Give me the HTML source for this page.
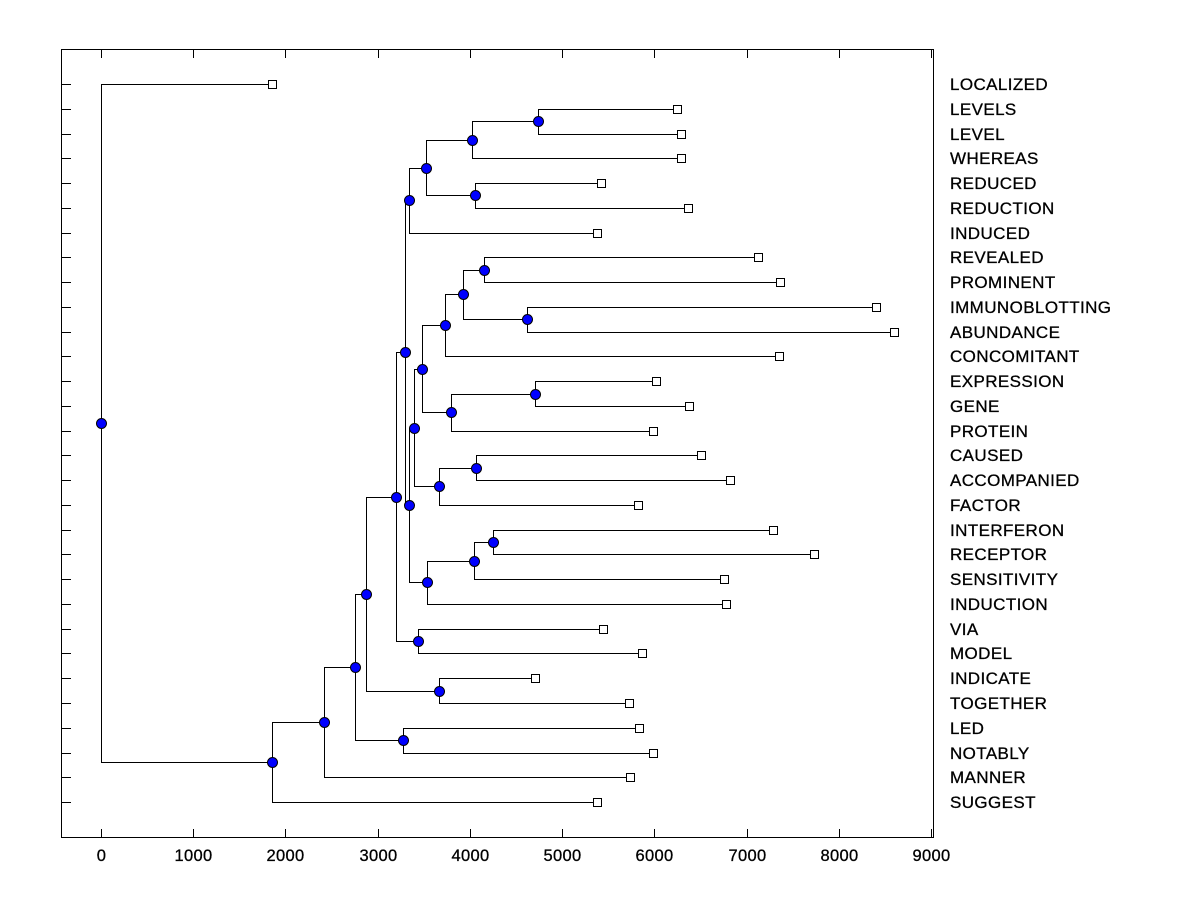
<!DOCTYPE html>
<html><head><meta charset="utf-8"><style>
html,body{margin:0;padding:0;background:#fff;}
svg{display:block;font-family:"Liberation Sans",Arial,sans-serif;}
</style></head><body>
<svg id="chart" width="1200" height="900" viewBox="0 0 1200 900">
<rect x="61.5" y="49.5" width="872" height="788" fill="none" stroke="#000" stroke-width="1"/>
<g id="axes"></g>
<g id="links"></g>
<g id="marks"></g>
<g id="labels"></g>
</svg>
<script>
const leafNames = ["LOCALIZED","LEVELS","LEVEL","WHEREAS","REDUCED","REDUCTION","INDUCED","REVEALED","PROMINENT","IMMUNOBLOTTING","ABUNDANCE","CONCOMITANT","EXPRESSION","GENE","PROTEIN","CAUSED","ACCOMPANIED","FACTOR","INTERFERON","RECEPTOR","SENSITIVITY","INDUCTION","VIA","MODEL","INDICATE","TOGETHER","LED","NOTABLY","MANNER","SUGGEST"];
const leafValues = [1855,6247,6290,6290,5423,6367,5380,7126,7364,8406,8601,7354,6020,6378,5987,6508,6822,5824,7289,7733,6757,6779,5445,5868,4707,5727,5835,5987,5738,5380];
const mergeLeft  = [1,30,4,31,33,7,9,35,37,12,39,38,15,42,41,18,45,46,44,34,22,49,24,51,26,53,55,56,0];
const mergeRight = [2,3,5,32,6,8,10,36,11,13,14,40,16,17,43,19,20,21,47,48,23,50,25,52,27,54,28,29,57];
const mergeHeights = [4740,4024,4056,3525,3341,4154,4620,3926,3731,4707,3796,3482,4067,3666,3395,4252,4046,3536,3341,3297,3438,3200,3666,2874,3275,2755,2419,1855,0];
const xTicks = [0,1000,2000,3000,4000,5000,6000,7000,8000,9000];

const NS="http://www.w3.org/2000/svg";
const xScale = v => 101 + v*0.09222;
const leafY = i => 84 + i*24.76;

function mk(tag, attrs, parent){const e=document.createElementNS(NS,tag);for(const k in attrs)e.setAttribute(k,attrs[k]);parent.appendChild(e);return e;}

const axes=document.getElementById('axes');
xTicks.forEach(t=>{
  const x=Math.round(xScale(t))+0.5;
  const a=mk('line',{x1:x,x2:x,y1:837,y2:829,stroke:'#000'},axes);
  
  
  const b=mk('line',{x1:x,x2:x,y1:50,y2:58,stroke:'#000'},axes);
  
  
  const l=mk('text',{x:x,y:861,'text-anchor':'middle','font-size':'16.5','letter-spacing':'0.3','stroke':'#000','stroke-width':'0.3'},axes);
  l.textContent=t;
  
  
});
leafNames.forEach((n,i)=>{
  const y=Math.round(leafY(i))+0.5;
  const t=mk('line',{x1:62,x2:71,y1:y,y2:y,stroke:'#000'},axes);
  
  
});

const nx=[],ny=[];
leafValues.forEach((v,i)=>{nx[i]=xScale(v);ny[i]=leafY(i);});
const links=document.getElementById('links');
mergeHeights.forEach((h,k)=>{
  const id=30+k,a=mergeLeft[k],b=mergeRight[k];
  nx[id]=xScale(h);ny[id]=(ny[a]+ny[b])/2;
  const x=Math.round(nx[id])+0.5;
  const p=mk('path',{d:`M${Math.round(nx[a])+0.5},${Math.round(ny[a])+0.5}H${x}V${Math.round(ny[b])+0.5}H${Math.round(nx[b])+0.5}`,fill:'none',stroke:'#000','stroke-width':1},links);
  
  
});
const marks=document.getElementById('marks');
mergeHeights.forEach((h,k)=>{
  const id=30+k;
  const c=mk('circle',{cx:Math.round(nx[id])+0.5,cy:Math.round(ny[id])+0.5,r:5,fill:'#0000ff',stroke:'#000'},marks);
  
  
});
const labels=document.getElementById('labels');
leafNames.forEach((n,i)=>{
  const s=mk('rect',{x:Math.round(nx[i])-3.5,y:Math.round(ny[i])-3.5,width:8,height:8,fill:'#fff',stroke:'#000'},marks);
  
  
  const t=mk('text',{x:950,y:Math.round(ny[i])+6,'font-size':'17','letter-spacing':'0.4','stroke':'#000','stroke-width':'0.3'},labels);
  t.textContent=n;
  
  
});
</script>
</body></html>
